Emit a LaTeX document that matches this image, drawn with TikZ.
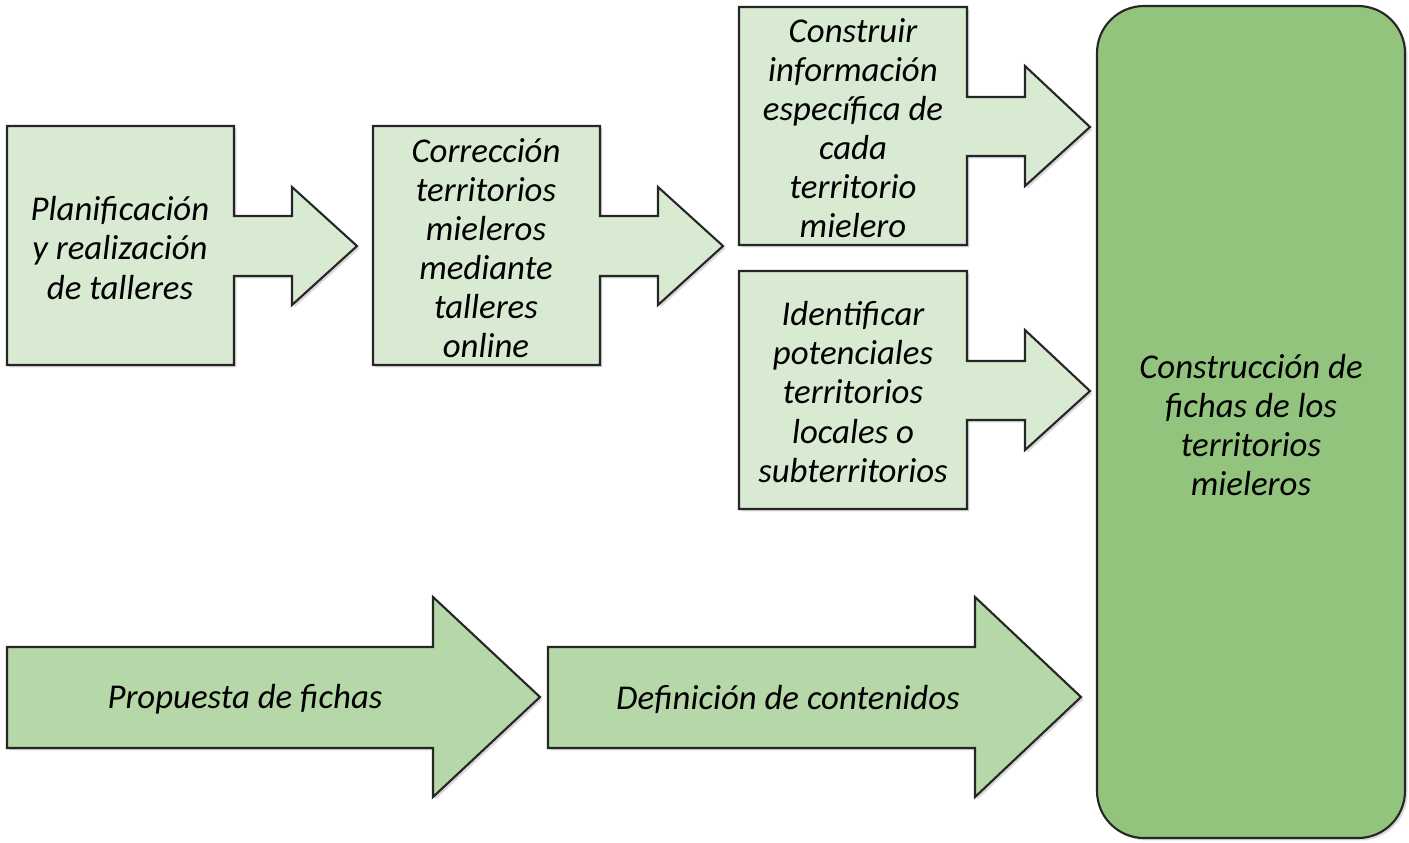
\documentclass[tikz,border=0pt]{standalone}
\usepackage{fontspec}
\setmainfont{Carlito}
\usetikzlibrary{shadows}
\definecolor{paleGreen}{HTML}{D9EAD3}
\definecolor{midGreen}{HTML}{B6D7A8}
\definecolor{darkGreen}{HTML}{93C47D}
\tikzset{
  shape line/.style={draw=black!85, line width=0.6pt, line join=miter,
    drop shadow={shadow xshift=0.7pt, shadow yshift=-0.7pt, opacity=0.3}},
  label text/.style={align=center, font=\itshape\fontsize{9.9}{11.1}\selectfont, inner sep=0pt}
}
\begin{document}
\begin{tikzpicture}[x=0.01cm, y=-0.01cm]
			\useasboundingbox (0,0) rectangle (1409,842);
			% callout boxes
			\draw [shape line, fill=paleGreen] (7,126) -- (234,126) -- (234,216) -- (292,216) -- (292,187) -- (357,246) -- (292,305) -- (292,276) -- (234,276) -- (234,365) -- (7,365) -- cycle;
			\node [label text] (plan) at (120,248) {Planificación\\y realización\\de talleres};
			\draw [shape line, fill=paleGreen] (373,126) -- (600,126) -- (600,216) -- (658,216) -- (658,187) -- (723,246) -- (658,305) -- (658,276) -- (600,276) -- (600,365) -- (373,365) -- cycle;
			\node [label text] (corr) at (486,248) {Corrección\\territorios\\mieleros\\mediante\\talleres\\online};
			\draw [shape line, fill=paleGreen] (739,7) -- (967,7) -- (967,97) -- (1025,97) -- (1025,66) -- (1090,127) -- (1025,186) -- (1025,156) -- (967,156) -- (967,245) -- (739,245) -- cycle;
			\node [label text] (info) at (853,128) {Construir\\información\\específica de\\cada\\territorio\\mielero};
			\draw [shape line, fill=paleGreen] (739,271) -- (967,271) -- (967,361) -- (1025,361) -- (1025,330) -- (1090,391) -- (1025,450) -- (1025,420) -- (967,420) -- (967,509) -- (739,509) -- cycle;
			\node [label text] (ident) at (853,392) {Identificar\\potenciales\\territorios\\locales o\\subterritorios};
			% block arrows
			\draw [shape line, fill=midGreen] (7,647) -- (433,647) -- (433,597) -- (540,697) -- (433,797) -- (433,748) -- (7,748) -- cycle;
			\node [label text] (prop) at (245,699) {Propuesta de fichas};
			\draw [shape line, fill=midGreen] (548,647) -- (975,647) -- (975,597) -- (1081,697) -- (975,797) -- (975,748) -- (548,748) -- cycle;
			\node [label text] (defi) at (788,699) {Definición de contenidos};
			% target
			\draw [shape line, fill=darkGreen, rounded corners=0.47cm] (1097,6) rectangle (1405,838);
			\node [label text] (fichas) at (1251,425) {Construcción de\\fichas de los\\territorios\\mieleros};
\end{tikzpicture}
\end{document}
